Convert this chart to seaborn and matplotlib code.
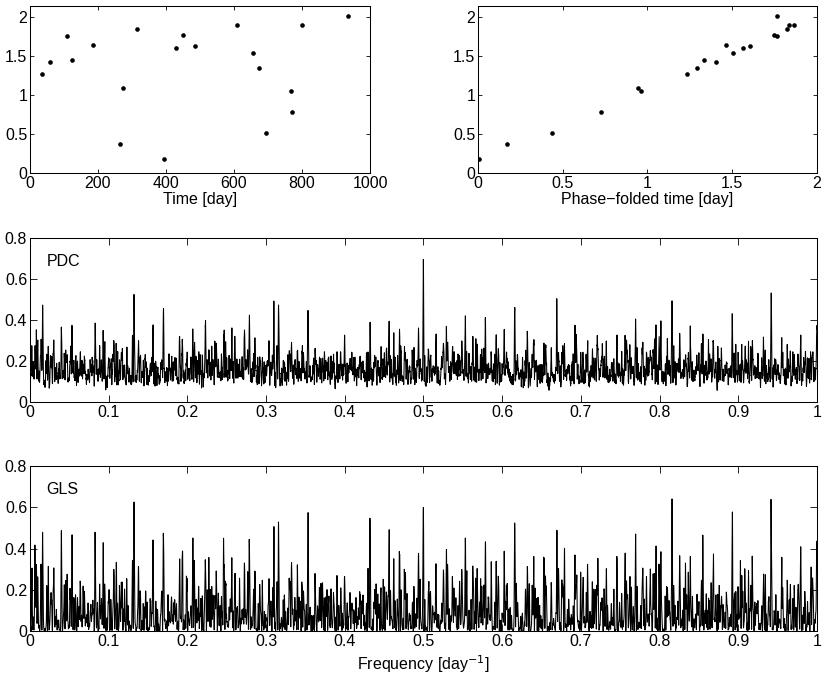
import numpy as np
import pandas as pd
import seaborn as sns
import matplotlib.pyplot as plt
from matplotlib.ticker import FuncFormatter

time = [36.33, 58.50, 108.86, 124.43, 186.56, 265.27, 274.04, 314.92, 395.10, 428.66,
        450.84, 486.70, 608.93, 654.60, 674.39, 695.53, 768.06, 771.82, 798.96, 934.86]
value = [1.268, 1.421, 1.753, 1.447, 1.643, 0.374, 1.081, 1.838, 0.179, 1.596,
         1.770, 1.626, 1.894, 1.540, 1.345, 0.515, 1.043, 0.779, 1.894, 2.004]

period = 2.0
fold_ref = 395.096

# frequency grid of the periodograms
freq = np.linspace(0.0002, 1.0, 10000)

t = np.array(time)
x = np.array(value)
data = pd.DataFrame({"time": t, "value": x})
data["phase"] = (data["time"] - fold_ref) % period


# GLS periodogram (floating mean sine fit)
def gls(t, x, freq):
    w = 2 * np.pi * freq[:, None] * t[None, :]
    c, s = np.cos(w), np.sin(w)
    one = np.ones_like(c)
    M = np.stack([one, c, s], axis=2)
    MtM = np.einsum("fni,fnj->fij", M, M)
    Mtx = np.einsum("fni,n->fi", M, x)
    coef = np.linalg.solve(MtM, Mtx[..., None])[..., 0]
    resid = x[None, :] - np.einsum("fni,fi->fn", M, coef)
    chi0 = np.sum((x - x.mean()) ** 2)
    return 1 - np.sum(resid ** 2, axis=1) / chi0


# PDC periodogram (distance correlation with phase distance)
def center(d):
    return d - d.mean(axis=-1, keepdims=True) - d.mean(axis=-2, keepdims=True) \
        + d.mean(axis=(-1, -2), keepdims=True)


def pdc(t, x, freq):
    B = center(np.abs(x[:, None] - x[None, :]))
    out = np.empty(len(freq))
    for k in range(0, len(freq), 1000):
        f = freq[k:k + 1000]
        ph = (t[None, :] * f[:, None]) % 1.0
        d = (ph[:, :, None] - ph[:, None, :]) % 1.0
        A = center(d * (1 - d))
        dcov = np.mean(A * B, axis=(1, 2))
        dva = np.mean(A * A, axis=(1, 2))
        dvb = np.mean(B * B)
        out[k:k + 1000] = dcov / np.sqrt(dva * dvb)
    return out


pdc_df = pd.DataFrame({"freq": freq, "power": pdc(t, x, freq)})
gls_df = pd.DataFrame({"freq": freq, "power": gls(t, x, freq)})

# Style
sns.set_style("white", {"xtick.direction": "in", "ytick.direction": "in",
                        "axes.edgecolor": "black", "xtick.top": True, "ytick.right": True,
                        "xtick.bottom": True, "ytick.left": True,
                        "text.color": "black", "axes.labelcolor": "black",
                        "xtick.color": "black", "ytick.color": "black"})
plt.rcParams["font.family"] = ["Liberation Sans", "DejaVu Sans"]
plt.rcParams["font.size"] = 11.5
plt.rcParams["axes.linewidth"] = 0.75

fig = plt.figure(figsize=(8.3, 6.87), dpi=100)
ax1 = fig.add_axes([0.0361, 0.7482, 0.4097, 0.2431])
ax2 = fig.add_axes([0.5759, 0.7482, 0.4084, 0.2431])
ax3 = fig.add_axes([0.0361, 0.4148, 0.9482, 0.2387])
ax4 = fig.add_axes([0.0361, 0.0815, 0.9482, 0.2402])

fmt = FuncFormatter(lambda v, p: "%g" % round(v, 3))

# Top left: time series
sns.scatterplot(data=data, x="time", y="value", ax=ax1, color="black", s=11, linewidth=0)
ax1.set_xlim(0, 1000)
ax1.set_xticks([0, 200, 400, 600, 800, 1000])
ax1.set_xlabel("Time [day]", labelpad=1)

# Top right: phase folded
sns.scatterplot(data=data, x="phase", y="value", ax=ax2, color="black", s=11, linewidth=0)
ax2.set_xlim(0, 2)
ax2.set_xticks([0, 0.5, 1, 1.5, 2])
ax2.set_xlabel("Phase\u2212folded time [day]", labelpad=1)

for ax in (ax1, ax2):
    ax.set_ylim(0, 2.136)
    ax.set_yticks([0, 0.5, 1, 1.5, 2])
    ax.set_ylabel("")
    ax.tick_params(length=3, width=0.6, pad=2, colors="black")

# Periodograms
for ax, df, name in ((ax3, pdc_df, "PDC"), (ax4, gls_df, "GLS")):
    sns.lineplot(data=df, x="freq", y="power", ax=ax, color="black", linewidth=0.75,
                 estimator=None, sort=False)
    ax.set_xlim(0, 1)
    ax.set_ylim(0, 0.8)
    ax.set_xticks(np.arange(0, 1.01, 0.1))
    ax.set_yticks([0, 0.2, 0.4, 0.6, 0.8])
    ax.set_xlabel("")
    ax.set_ylabel("")
    ax.tick_params(length=5, width=0.6, pad=2, colors="black")
    ax.text(0.021, 0.86, name, transform=ax.transAxes, ha="left", va="center",
            color="black")

ax4.set_xlabel("Frequency [day$^{-1}$]", labelpad=3, color="black")

for ax in (ax1, ax2, ax3, ax4):
    ax.xaxis.set_major_formatter(fmt)
    ax.yaxis.set_major_formatter(fmt)
    ax.xaxis.label.set_color("black")
    for sp in ax.spines.values():
        sp.set_visible(True)
        sp.set_color("black")

fig.savefig("out.png", dpi=100)
